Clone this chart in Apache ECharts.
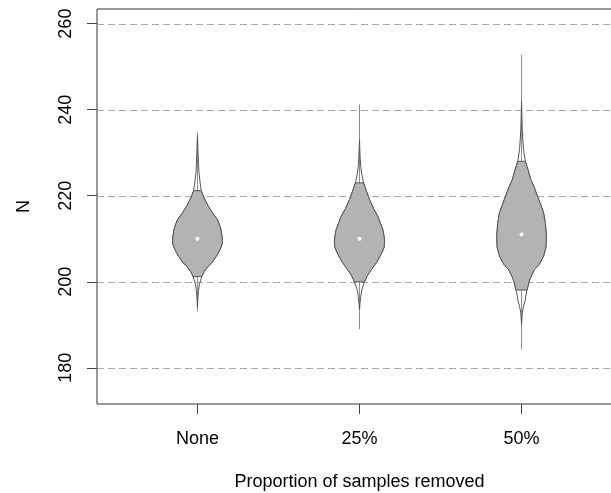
<!DOCTYPE html>
<html>
<head>
<meta charset="utf-8">
<script src="https://cdn.jsdelivr.net/npm/echarts@6/dist/echarts.min.js"></script>
<style>
  html, body { margin: 0; padding: 0; background: #ffffff; }
  #chart { width: 611px; height: 493px; }
</style>
</head>
<body>
<div id="chart"></div>
<script>
// Groups along the x axis
const categories = ['None', '25%', '50%'];
const categoryPositions = [1, 2, 3];

// Y axis ticks
const yTicks = [180, 200, 220, 240, 260];

// Per-group summaries (N)
const medians = [210.0, 210.0, 211.0];
const rangeLow = [193.1, 189.0, 184.3];
const rangeHigh = [234.8, 241.2, 252.8];
const shadedLow = [201.2, 200.0, 198.1];
const shadedHigh = [221.2, 223.0, 228.0];

// Density profiles: N levels (top to bottom) and relative density (max = 1)
const levelsNone = [234.0, 230.7, 227.6, 225.3, 222.9, 221.2, 219.5, 217.5, 216.0, 214.4, 212.5, 210.5, 209.0, 207.5, 205.9, 204.5, 203.6, 202.3, 201.2, 199.5, 198.0, 196.5, 194.0];
const densityNone = [0, 0.02, 0.04, 0.06, 0.11, 0.15, 0.26, 0.44, 0.60, 0.80, 0.92, 0.98, 0.99, 0.90, 0.75, 0.58, 0.43, 0.26, 0.17, 0.08, 0.045, 0.02, 0];

const levels25 = [233.0, 229.0, 226.8, 225.3, 223.0, 221.0, 219.1, 217.0, 215.2, 213.5, 212.1, 210.5, 209.4, 208.0, 206.5, 204.5, 202.8, 201.5, 200.0, 198.1, 196.6, 195.0, 193.5];
const density25 = [0, 0.024, 0.05, 0.08, 0.16, 0.28, 0.40, 0.56, 0.73, 0.84, 0.93, 0.98, 1.00, 0.98, 0.87, 0.68, 0.47, 0.32, 0.20, 0.09, 0.05, 0.02, 0];

const levels50 = [241.9, 238.0, 235.0, 233.0, 230.7, 228.0, 226.0, 223.7, 222.0, 219.8, 218.0, 216.0, 213.5, 210.5, 208.0, 206.0, 204.0, 202.8, 201.0, 200.0, 198.1, 196.5, 195.8, 194.3, 192.8, 190.0];
const density50 = [0, 0.016, 0.032, 0.052, 0.08, 0.15, 0.26, 0.37, 0.50, 0.64, 0.76, 0.88, 0.95, 0.99, 0.97, 0.88, 0.70, 0.51, 0.36, 0.30, 0.22, 0.16, 0.15, 0.08, 0.03, 0];

const profileLevels = [levelsNone, levels25, levels50];
const profileDensity = [densityNone, density25, density50];

// Drawing constants
const HALF_WIDTH = 0.155;          // half width of a violin at density 1, in x units
const FONT = '"Liberation Sans", Arial, sans-serif';
const TEXT_COLOR = '#000000';
const FONT_SIZE = 18;

const chart = echarts.init(document.getElementById('chart'), null, { renderer: 'canvas' });

function renderGridLine(params, api) {
  const cs = params.coordSys;
  const y = Math.round(api.coord([1, api.value(1)])[1]) + 0.5;
  return {
    type: 'line',
    shape: { x1: cs.x, y1: y, x2: cs.x + cs.width, y2: y },
    style: { stroke: '#a8a8a8', lineWidth: 1, lineDash: [7, 4] },
    silent: true
  };
}

function renderViolin(params, api) {
  const i = params.dataIndex;
  const cx = api.value(0);
  const levels = profileLevels[i];
  const dens = profileDensity[i];
  const pt = (dx, y) => api.coord([cx + dx, y]);

  // Whole violin outline
  const left = [], right = [];
  for (let k = 0; k < levels.length; k++) {
    left.push(pt(-dens[k] * HALF_WIDTH, levels[k]));
    right.push(pt(dens[k] * HALF_WIDTH, levels[k]));
  }
  const outline = left.concat(right.slice().reverse());

  // Shaded central part
  const sl = [], sr = [];
  for (let k = 0; k < levels.length; k++) {
    if (levels[k] <= shadedHigh[i] + 1e-6 && levels[k] >= shadedLow[i] - 1e-6) {
      sl.push(pt(-dens[k] * HALF_WIDTH, levels[k]));
      sr.push(pt(dens[k] * HALF_WIDTH, levels[k]));
    }
  }
  const shaded = sl.concat(sr.slice().reverse());

  const top = pt(0, rangeHigh[i]);
  const bottom = pt(0, rangeLow[i]);
  const med = pt(0, medians[i]);

  return {
    type: 'group',
    children: [
      {
        type: 'line',
        shape: { x1: top[0], y1: top[1], x2: bottom[0], y2: bottom[1] },
        style: { stroke: '#8c8c8c', lineWidth: 1 }
      },
      {
        type: 'polygon',
        shape: { points: outline },
        style: { fill: 'none', stroke: '#555555', lineWidth: 1 }
      },
      {
        type: 'polygon',
        shape: { points: shaded },
        style: { fill: '#b3b3b3', stroke: '#555555', lineWidth: 1 }
      },
      {
        type: 'circle',
        shape: { cx: med[0], cy: med[1], r: 2 },
        style: { fill: '#ffffff', stroke: 'none' }
      }
    ]
  };
}

const option = {
  animation: false,
  backgroundColor: '#ffffff',
  grid: {
    left: 97, top: 9, width: 525, height: 395,
    outerBoundsMode: 'none',
    containLabel: false,
    show: true, borderColor: '#333333', borderWidth: 1, backgroundColor: 'transparent'
  },
  xAxis: {
    type: 'value',
    min: 0.38,
    max: 3.62,
    name: 'Proportion of samples removed',
    nameLocation: 'middle',
    nameGap: 69,
    nameTextStyle: { fontFamily: FONT, fontSize: FONT_SIZE, color: TEXT_COLOR },
    axisLine: { show: false },
    splitLine: { show: false },
    axisTick: {
      show: true, inside: false, length: 10,
      customValues: categoryPositions,
      lineStyle: { color: '#444444', width: 1 }
    },
    axisLabel: {
      show: true,
      customValues: categoryPositions,
      margin: 26,
      fontFamily: FONT, fontSize: FONT_SIZE, color: TEXT_COLOR,
      formatter: v => categories[Math.round(v) - 1]
    }
  },
  yAxis: {
    type: 'value',
    min: 171.6,
    max: 263.4,
    name: 'N',
    nameLocation: 'middle',
    nameRotate: 90,
    nameGap: 64,
    nameTextStyle: { fontFamily: FONT, fontSize: FONT_SIZE, color: TEXT_COLOR },
    axisLine: { show: false },
    splitLine: { show: false },
    axisTick: {
      show: true, inside: false, length: 10,
      customValues: yTicks,
      lineStyle: { color: '#444444', width: 1 }
    },
    axisLabel: {
      show: true,
      customValues: yTicks,
      rotate: 90,
      margin: 22,
      fontFamily: FONT, fontSize: FONT_SIZE, color: TEXT_COLOR
    }
  },
  series: [
    {
      type: 'custom',
      name: 'grid lines',
      z: 1,
      renderItem: renderGridLine,
      encode: { x: 0, y: 1 },
      data: yTicks.map(v => [1, v]),
      silent: true
    },
    {
      type: 'custom',
      name: 'violins',
      z: 2,
      renderItem: renderViolin,
      encode: { x: 0, y: 1 },
      data: categoryPositions.map((p, i) => [p, medians[i]]),
      silent: true
    }
  ]
};

chart.setOption(option);
</script>
</body>
</html>
